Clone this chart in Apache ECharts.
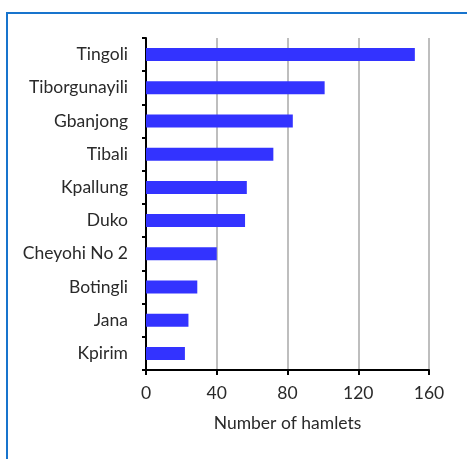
<!DOCTYPE html>
<html>
<head>
<meta charset="utf-8">
<script src="https://cdn.jsdelivr.net/npm/echarts@6/dist/echarts.min.js"></script>
<style>
html,body{margin:0;padding:0;background:#fff;}
#c{width:467px;height:459px;}
</style>
</head>
<body>
<div id="c"></div>
<script>
const categories = ['Tingoli','Tiborgunayili','Gbanjong','Tibali','Kpallung','Duko','Cheyohi No 2','Botingli','Jana','Kpirim'];
const hamlets = [152, 101, 83, 72, 57, 56, 40, 29, 24, 22];
const xTicks = [0, 40, 80, 120, 160];
const xAxisName = 'Number of hamlets';

const chart = echarts.init(document.getElementById('c'));
const font = 'Lato, "Open Sans", sans-serif';
const fs = 17.5;
chart.setOption({
  animation: false,
  backgroundColor: '#fff',
  graphic: [{
    type: 'rect',
    shape: { x: 7, y: 13, width: 480, height: 470 },
    style: { fill: 'none', stroke: '#1874CD', lineWidth: 2 },
    silent: true
  }],
  grid: { left: 146, right: 38, top: 38, bottom: 89, containLabel: false },
  xAxis: {
    type: 'value',
    min: xTicks[0],
    max: xTicks[xTicks.length - 1],
    interval: xTicks[1] - xTicks[0],
    name: xAxisName,
    nameLocation: 'middle',
    nameGap: 44,
    nameTextStyle: { fontFamily: font, fontSize: fs, color: '#2a2a2a' },
    axisLine: { show: true, lineStyle: { color: '#000', width: 2 } },
    axisTick: { show: true, length: 5, lineStyle: { color: '#000', width: 2 } },
    axisLabel: { fontFamily: font, fontSize: fs, color: '#2a2a2a', margin: 14 },
    splitLine: { show: true, lineStyle: { color: '#a8a8a8', width: 1.5 } }
  },
  yAxis: {
    type: 'category',
    data: categories,
    inverse: true,
    axisLine: { show: true, lineStyle: { color: '#000', width: 2 } },
    axisTick: { show: true, length: 4, lineStyle: { color: '#000', width: 2 } },
    axisLabel: { fontFamily: font, fontSize: fs, color: '#2a2a2a', margin: 18 },
    splitLine: { show: false }
  },
  series: [{
    type: 'bar',
    data: hamlets,
    barWidth: 13,
    itemStyle: { color: '#3333FF' }
  }]
});
</script>
</body>
</html>
